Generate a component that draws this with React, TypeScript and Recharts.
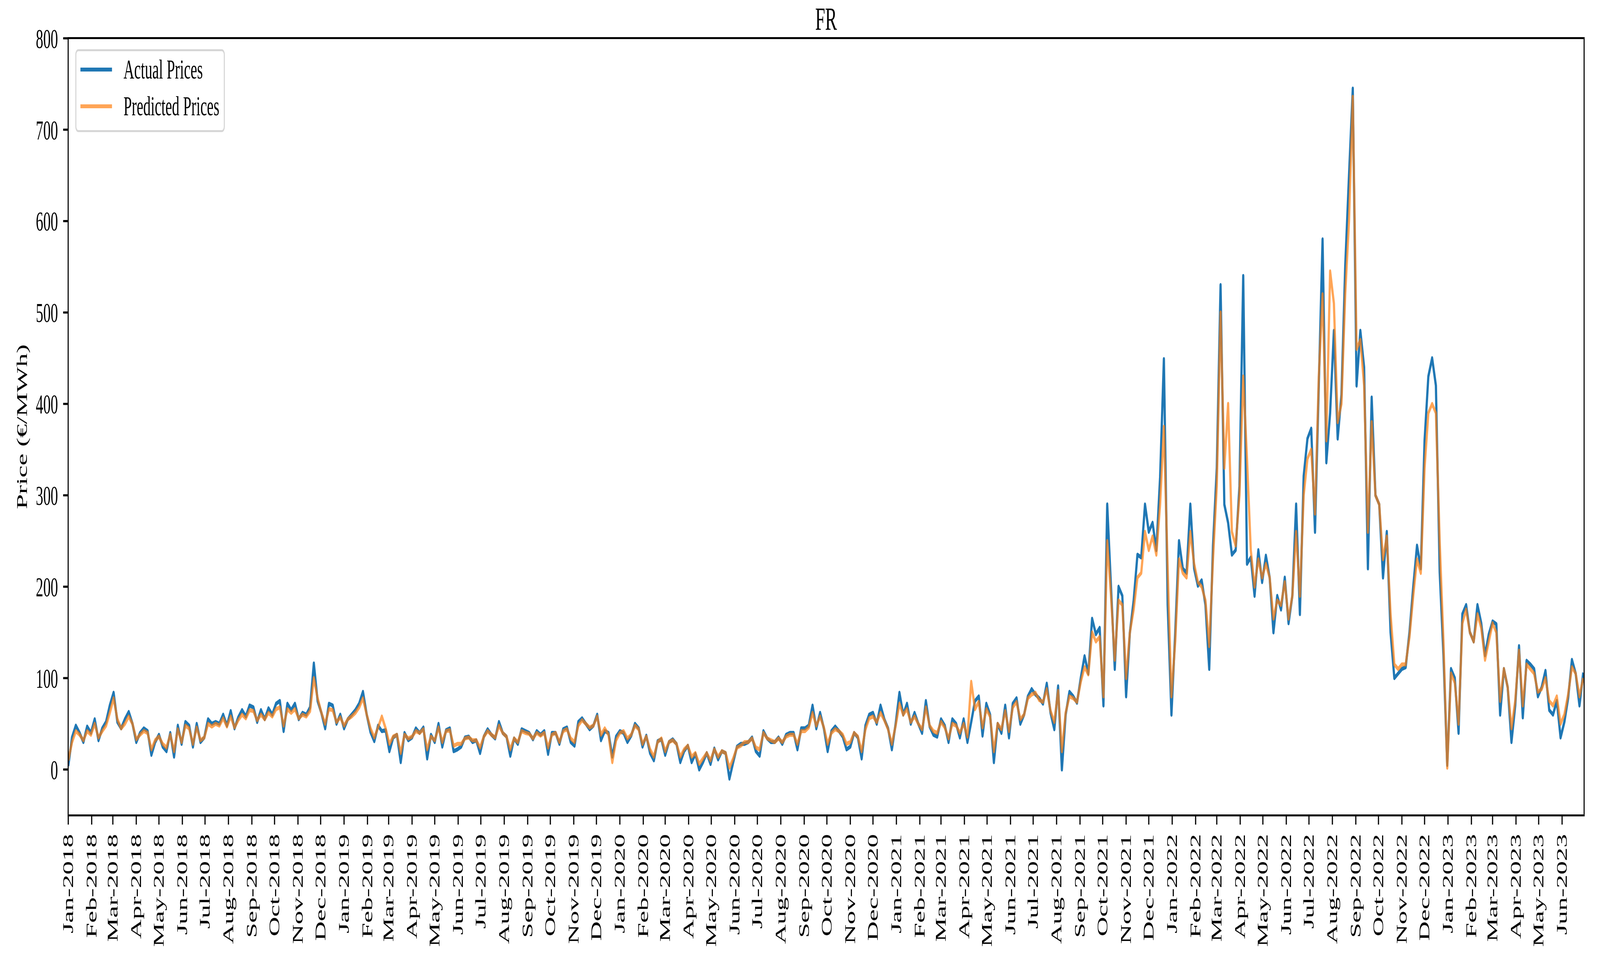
import { LineChart, Line, XAxis, YAxis } from 'recharts';

// daily series sampled every 5 days, starting 2018-01-01
const START_UTC = Date.UTC(2018, 0, 1);
const STEP_DAYS = 5;
const END_DAY = 2006; // 2023-06-30

const actual2018 = [4, 35, 48, 40, 30, 47, 40, 55, 32, 45, 52, 70, 84, 52, 45, 55, 63, 50, 30, 40, 45, 42, 16, 30, 38, 25, 20, 40, 14, 48, 28, 52, 48, 25, 50, 30, 35, 55, 50, 52, 50, 60, 48, 64, 45, 57, 65, 58, 70, 68, 52, 65, 55, 67, 60, 72, 75, 42, 72, 65, 72, 55, 62, 60, 68, 116, 75, 62, 45, 72, 70, 50, 60];
const actual2019 = [45, 55, 60, 65, 72, 85, 60, 41, 31, 48, 42, 43, 20, 35, 38, 8, 40, 32, 35, 45, 40, 46, 12, 38, 30, 50, 25, 43, 45, 20, 22, 25, 35, 36, 30, 32, 18, 36, 44, 38, 34, 52, 40, 36, 15, 34, 28, 44, 42, 40, 33, 42, 38, 42, 17, 40, 40, 28, 44, 46, 30, 26, 52, 56, 50, 44, 48, 60, 32, 42, 40, 14, 36];
const actual2020 = [42, 40, 30, 37, 50, 45, 25, 37, 18, 10, 31, 33, 16, 30, 33, 28, 8, 20, 26, 8, 17, 0, 8, 18, 6, 23, 11, 20, 18, -10, 8, 25, 28, 28, 30, 35, 20, 15, 42, 34, 30, 30, 35, 28, 38, 40, 40, 22, 45, 45, 48, 70, 45, 62, 45, 20, 42, 47, 42, 36, 22, 25, 40, 35, 12, 48, 60, 62, 50, 70, 55, 45, 22];
const actual2021 = [50, 84, 60, 72, 50, 62, 50, 40, 75, 47, 38, 36, 55, 48, 30, 55, 50, 35, 55, 30, 52, 75, 80, 37, 72, 60, 8, 50, 40, 70, 35, 72, 78, 50, 60, 80, 88, 82, 78, 72, 94, 62, 44, 91, 0, 60, 85, 80, 73, 100, 124, 105, 165, 148, 155, 70, 290, 200, 110, 200, 190, 80, 150, 185, 235, 232, 290, 260, 270, 240, 320, 449, 180];
const actual2022 = [60, 150, 250, 220, 215, 290, 220, 201, 207, 180, 110, 245, 330, 530, 290, 270, 235, 240, 310, 540, 225, 232, 190, 240, 205, 234, 210, 150, 190, 175, 210, 160, 190, 290, 170, 321, 362, 373, 260, 420, 580, 336, 390, 480, 362, 410, 551, 650, 745, 420, 480, 440, 220, 407, 300, 290, 210, 260, 150, 100, 105, 110, 112, 150, 200, 245, 220, 360, 430, 450, 420, 216, 125];
const actual2023 = [5, 110, 100, 40, 170, 180, 150, 140, 180, 160, 125, 148, 162, 159, 60, 110, 90, 30, 70, 135, 57, 119, 115, 110, 80, 90, 108, 65, 60, 75, 35, 52, 78, 120, 105, 70, 106];

const predicted2018 = [10, 30, 42, 38, 32, 42, 38, 50, 35, 42, 48, 62, 78, 55, 45, 50, 58, 50, 33, 38, 42, 40, 22, 32, 36, 28, 24, 38, 20, 44, 30, 48, 45, 28, 46, 32, 35, 50, 47, 50, 48, 56, 47, 58, 46, 54, 60, 56, 65, 64, 54, 60, 55, 62, 58, 66, 68, 48, 66, 62, 66, 56, 60, 58, 64, 100, 78, 62, 50, 66, 65, 52, 57];
const predicted2019 = [48, 55, 58, 62, 68, 78, 60, 45, 35, 46, 58, 45, 28, 36, 38, 18, 38, 34, 36, 42, 40, 44, 22, 36, 32, 46, 30, 42, 43, 26, 28, 28, 34, 35, 32, 32, 24, 36, 42, 38, 35, 48, 40, 36, 22, 34, 30, 42, 40, 39, 34, 40, 37, 40, 24, 38, 40, 30, 42, 44, 34, 30, 48, 54, 50, 46, 48, 58, 38, 45, 38, 8, 32];
const predicted2020 = [40, 42, 34, 38, 48, 44, 28, 36, 22, 14, 30, 34, 20, 30, 32, 28, 14, 22, 26, 14, 18, 6, 12, 18, 10, 22, 14, 20, 18, 2, 12, 24, 26, 30, 30, 34, 24, 22, 40, 34, 32, 30, 34, 30, 36, 38, 38, 28, 42, 42, 46, 62, 48, 58, 46, 28, 40, 44, 42, 38, 28, 30, 40, 36, 20, 44, 56, 58, 52, 62, 54, 44, 28];
const predicted2021 = [48, 72, 60, 66, 52, 58, 50, 44, 68, 48, 42, 40, 52, 46, 34, 50, 48, 40, 50, 36, 96, 66, 74, 46, 66, 58, 20, 50, 44, 64, 42, 68, 74, 55, 60, 78, 82, 84, 76, 74, 88, 64, 52, 86, 20, 62, 80, 78, 74, 96, 112, 104, 150, 140, 145, 80, 250, 190, 120, 185, 180, 100, 150, 175, 210, 215, 260, 240, 255, 235, 290, 375, 220];
const predicted2022 = [80, 140, 230, 215, 210, 260, 225, 205, 200, 185, 135, 230, 310, 500, 330, 400, 260, 245, 300, 430, 340, 240, 200, 230, 210, 225, 210, 165, 185, 180, 205, 165, 190, 260, 190, 300, 340, 350, 280, 430, 520, 360, 545, 510, 380, 400, 520, 600, 736, 460, 470, 420, 260, 380, 300, 290, 230, 255, 170, 115, 110, 115, 115, 145, 190, 230, 215, 330, 390, 400, 390, 250, 140];
const predicted2023 = [2, 105, 95, 50, 160, 175, 150, 140, 170, 155, 120, 140, 160, 150, 75, 110, 90, 45, 75, 130, 70, 115, 110, 105, 85, 88, 100, 75, 70, 80, 50, 60, 82, 112, 105, 80, 100];

const yTicks = [0, 100, 200, 300, 400, 500, 600, 700, 800];
const monthNames = ['Jan', 'Feb', 'Mar', 'Apr', 'May', 'Jun', 'Jul', 'Aug', 'Sep', 'Oct', 'Nov', 'Dec'];
const tickYears = [2018, 2019, 2020, 2021, 2022, 2023];
const lastTickMonth = { year: 2023, month: 5 }; // Jun-2023

const actual = [...actual2018, ...actual2019, ...actual2020, ...actual2021, ...actual2022, ...actual2023];
const predicted = [...predicted2018, ...predicted2019, ...predicted2020, ...predicted2021, ...predicted2022, ...predicted2023];

const data = actual.map((v, i) => ({ day: i * STEP_DAYS, actual: v, predicted: predicted[i] }));

// month start positions (days since 2018-01-01) and their labels
const monthTicks: number[] = [];
const monthLabels: Record<number, string> = {};
tickYears.forEach(year => {
    monthNames.forEach((name, m) => {
        if (year === lastTickMonth.year && m > lastTickMonth.month) return;
        const day = Math.round((Date.UTC(year, m, 1) - START_UTC) / 86400000);
        monthTicks.push(day);
        monthLabels[day] = `${name}-${year}`;
    });
});

const W = 7500;
const H = 2500;
const FONT = '"Liberation Serif", "Times New Roman", serif';
const FS = 69.4; // 10pt at 500 dpi
const BLUE = '#1f77b4';
const ORANGE = '#ff7f0e';

// plot area in figure pixels
const PLOT = { left: 320, top: 98, right: 7425, bottom: 2086 };

const MonthTick = (props: any) => {
    const { x, y, payload } = props;
    return (
        <g transform={`translate(${x},${y})`}>
            <text transform="rotate(-90)" textAnchor="end" dy="0.33em" fontFamily={FONT} fontSize={FS} fill="#000">
                {monthLabels[payload.value]}
            </text>
        </g>
    );
};

export default function App() {
    // the browser window may be narrower than the figure: squeeze it to fit
    const sx = Math.min(1, window.innerWidth / W);
    const sy = Math.min(1, window.innerHeight / H);

    return (
        <div style={{ position: 'relative', width: W * sx, height: H * sy, overflow: 'hidden', background: '#fff' }}>
            <style>{'body{margin:0;overflow:hidden}'}</style>
            <div style={{
                position: 'absolute', left: 0, top: 0, width: W, height: H,
                transform: `scale(${sx}, ${sy})`, transformOrigin: '0 0',
                fontFamily: FONT, color: '#000', background: '#fff'
            }}>
                <LineChart
                    width={W}
                    height={H}
                    data={data}
                    margin={{ top: PLOT.top, right: W - PLOT.right, left: PLOT.left - 200, bottom: H - PLOT.bottom - 300 }}
                >
                    <XAxis
                        type="number"
                        dataKey="day"
                        domain={[0, END_DAY]}
                        ticks={monthTicks}
                        interval={0}
                        allowDataOverflow
                        height={300}
                        axisLine={false}
                        tickLine={{ stroke: '#000', strokeWidth: 5.5 }}
                        tickSize={24}
                        tickMargin={24}
                        tick={<MonthTick />}
                    />
                    <YAxis
                        domain={[-50, 800]}
                        ticks={yTicks}
                        interval={0}
                        allowDataOverflow
                        width={200}
                        axisLine={false}
                        tickLine={{ stroke: '#000', strokeWidth: 5.5 }}
                        tickSize={24}
                        tickMargin={24}
                        tick={{ fill: '#000', fontSize: FS, fontFamily: FONT }}
                    />
                    <Line
                        type="linear"
                        dataKey="actual"
                        stroke={BLUE}
                        strokeWidth={10.4}
                        strokeLinejoin="round"
                        dot={false}
                        activeDot={false}
                        isAnimationActive={false}
                    />
                    <Line
                        type="linear"
                        dataKey="predicted"
                        stroke={ORANGE}
                        strokeOpacity={0.7}
                        strokeWidth={10.4}
                        strokeLinejoin="round"
                        dot={false}
                        activeDot={false}
                        isAnimationActive={false}
                    />
                </LineChart>

                {/* axes frame */}
                <div style={{
                    position: 'absolute', left: PLOT.left - 2.75, top: PLOT.top - 2.75,
                    width: PLOT.right - PLOT.left + 5.5, height: PLOT.bottom - PLOT.top + 5.5,
                    border: '5.5px solid #000', boxSizing: 'border-box', pointerEvents: 'none'
                }} />

                {/* title, kept just inside the top edge */}
                <div style={{ position: 'absolute', left: PLOT.left, width: PLOT.right - PLOT.left, top: 18, height: 60, textAlign: 'center', fontSize: 83.3, lineHeight: '60px' }}>
                    FR
                </div>

                {/* y label */}
                <div style={{
                    position: 'absolute', left: 104, top: (PLOT.top + PLOT.bottom) / 2,
                    transform: 'translate(-50%, -50%) rotate(-90deg)', whiteSpace: 'nowrap', fontSize: FS, lineHeight: '80px'
                }}>
                    Price (€/MWh)
                </div>

                {/* legend */}
                <div style={{
                    position: 'absolute', left: 353, top: 126, width: 701, height: 212,
                    border: '5.5px solid #d6d6d6', borderRadius: 14, boxSizing: 'border-box', background: 'rgba(255,255,255,0.8)'
                }} />
                <div style={{ position: 'absolute', left: 377, top: 178 - 5.2, width: 148, height: 10.4, background: BLUE }} />
                <div style={{ position: 'absolute', left: 377, top: 272 - 5.2, width: 148, height: 10.4, background: ORANGE, opacity: 0.7 }} />
                <div style={{ position: 'absolute', left: 579, top: 138, height: 80, lineHeight: '80px', fontSize: FS, whiteSpace: 'nowrap' }}>
                    Actual Prices
                </div>
                <div style={{ position: 'absolute', left: 579, top: 232, height: 80, lineHeight: '80px', fontSize: FS, whiteSpace: 'nowrap' }}>
                    Predicted Prices
                </div>
            </div>
        </div>
    );
}
